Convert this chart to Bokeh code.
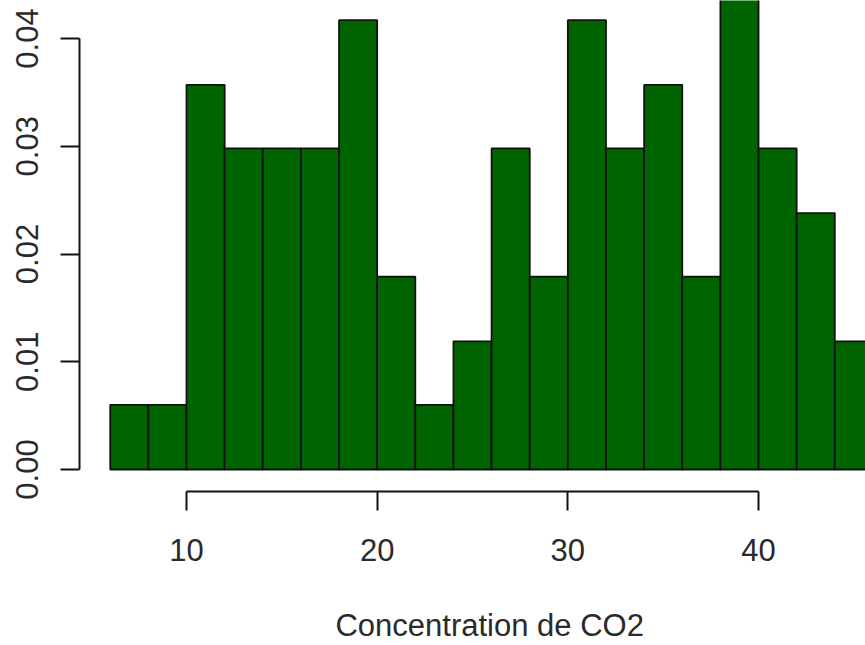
from bokeh.plotting import figure
from bokeh.models import FixedTicker, Range1d
from bokeh.embed import file_html
from bokeh.resources import INLINE

# Histogram of CO2 concentration (density scale), bins of width 2
bin_left = [6, 8, 10, 12, 14, 16, 18, 20, 22, 24, 26, 28, 30, 32, 34, 36, 38, 40, 42, 44]
bin_right = [8, 10, 12, 14, 16, 18, 20, 22, 24, 26, 28, 30, 32, 34, 36, 38, 40, 42, 44, 46]
density = [0.0060, 0.0060, 0.0357, 0.0298, 0.0298, 0.0298, 0.0417, 0.0179, 0.0060, 0.0119,
           0.0298, 0.0179, 0.0417, 0.0298, 0.0357, 0.0179, 0.0476, 0.0298, 0.0238, 0.0119]

x_ticks = [10, 20, 30, 40]
y_ticks = [0.0, 0.01, 0.02, 0.03, 0.04]
y_tick_labels = ["0.00", "0.01", "0.02", "0.03", "0.04"]
x_title = "Concentration de CO2"

p = figure(width=865, height=645, output_backend="svg", toolbar_location=None,
           x_range=Range1d(4.388, 45.61), y_range=Range1d(-0.002042, 0.043527),
           min_border_top=0, min_border_right=0, min_border_left=79, min_border_bottom=154)
p.outline_line_color = None
p.grid.visible = False
p.background_fill_color = "white"
p.border_fill_color = "white"

p.quad(left=bin_left, right=bin_right, bottom=0, top=density,
       fill_color="#006400", line_color="#111111", line_width=1.8)

FONT = "Liberation Sans"
for ax in (p.xaxis[0], p.yaxis[0]):
    ax.axis_line_width = 2
    ax.axis_line_color = "#111111"
    ax.major_tick_line_width = 2
    ax.major_tick_line_color = "#111111"
    ax.major_tick_out = 19
    ax.major_tick_in = 0
    ax.minor_tick_line_color = None
    ax.major_label_text_font = FONT
    ax.major_label_text_font_size = "31px"
    ax.major_label_text_color = "#2a2a2a"

xa = p.xaxis[0]
xa.ticker = FixedTicker(ticks=x_ticks)
xa.bounds = (10, 40)
xa.major_label_standoff = 28
# leading no-break spaces shift the centred title right, to the centre of R's
# plot region (which extends beyond the window's right edge)
xa.axis_label = "\u00a0\u00a0\u00a0\u00a0" + x_title
xa.axis_label_text_font = FONT
xa.axis_label_text_font_size = "31px"
xa.axis_label_text_font_style = "normal"
xa.axis_label_text_color = "#2a2a2a"
xa.axis_label_standoff = 44

ya = p.yaxis[0]
ya.ticker = FixedTicker(ticks=y_ticks)
ya.major_label_overrides = {t: s for t, s in zip(y_ticks, y_tick_labels)}
ya.bounds = (0, 0.04)
ya.major_label_orientation = "vertical"
ya.major_label_standoff = 22

open("out.html", "w").write(file_html(p, INLINE))
